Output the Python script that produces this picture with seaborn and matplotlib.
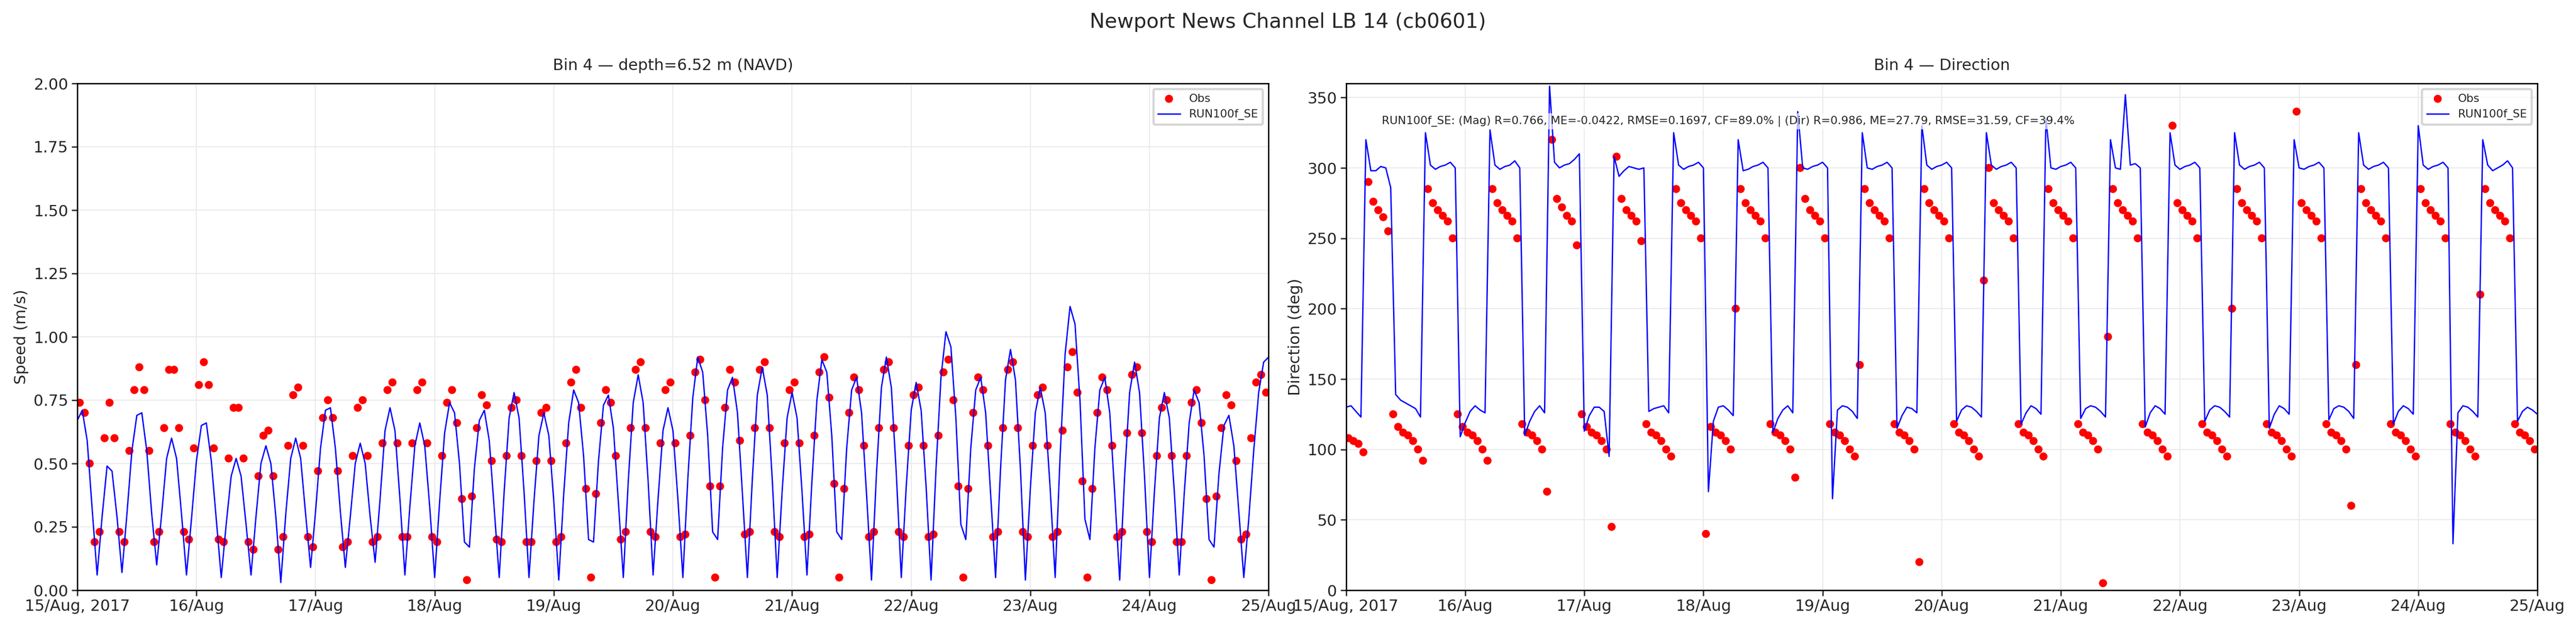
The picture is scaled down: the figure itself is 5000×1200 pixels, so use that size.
import seaborn as sns
import matplotlib.pyplot as plt
import matplotlib.dates as mdates
import pandas as pd
import numpy as np

# 观测与模型数据 (从图中读取, 模型每小时, 观测取半点)
model_speed = [
    0.67, 0.71, 0.59, 0.32, 0.06, 0.29, 0.49, 0.47, 0.29, 0.07,
    0.30, 0.55, 0.69, 0.70, 0.55, 0.30, 0.10,
    0.30, 0.52, 0.60, 0.52, 0.30, 0.06,
    0.28, 0.51, 0.65, 0.66, 0.51, 0.28, 0.05,
    0.26, 0.45, 0.52, 0.45, 0.26, 0.06,
    0.29, 0.50, 0.57, 0.50, 0.29, 0.03,
    0.30, 0.52, 0.60, 0.52, 0.30, 0.09,
    0.31, 0.56, 0.71, 0.72, 0.56, 0.31, 0.09,
    0.29, 0.50, 0.58, 0.50, 0.29, 0.11,
    0.36, 0.63, 0.72, 0.63, 0.36, 0.06,
    0.33, 0.57, 0.66, 0.57, 0.33, 0.05,
    0.35, 0.62, 0.74, 0.70, 0.50, 0.19,
    0.17, 0.48, 0.67, 0.71, 0.59, 0.32, 0.05,
    0.39, 0.68, 0.78, 0.68, 0.39, 0.05,
    0.35, 0.61, 0.70, 0.61, 0.35, 0.04,
    0.38, 0.66, 0.79, 0.74, 0.53, 0.20,
    0.19, 0.51, 0.73, 0.77, 0.64, 0.35, 0.05,
    0.43, 0.74, 0.85, 0.74, 0.43, 0.06,
    0.36, 0.63, 0.72, 0.63, 0.36, 0.05,
    0.44, 0.76, 0.92, 0.86, 0.61, 0.23,
    0.20, 0.56, 0.79, 0.84, 0.70, 0.38, 0.05,
    0.44, 0.77, 0.88, 0.77, 0.44, 0.05,
    0.39, 0.68, 0.78, 0.68, 0.39, 0.06,
    0.43, 0.75, 0.91, 0.86, 0.61, 0.23,
    0.20, 0.56, 0.79, 0.84, 0.70, 0.38, 0.04,
    0.46, 0.80, 0.92, 0.80, 0.46, 0.05,
    0.41, 0.71, 0.82, 0.71, 0.41, 0.04,
    0.48, 0.84, 1.02, 0.96, 0.68, 0.26,
    0.20, 0.56, 0.79, 0.84, 0.70, 0.38, 0.05,
    0.48, 0.83, 0.95, 0.83, 0.48, 0.04,
    0.40, 0.70, 0.80, 0.70, 0.40, 0.05,
    0.53, 0.93, 1.12, 1.05, 0.75, 0.28,
    0.20, 0.56, 0.79, 0.84, 0.70, 0.38, 0.04,
    0.45, 0.78, 0.90, 0.78, 0.45, 0.05,
    0.39, 0.68, 0.78, 0.68, 0.39, 0.06,
    0.38, 0.66, 0.79, 0.74, 0.53, 0.20,
    0.17, 0.46, 0.65, 0.69, 0.57, 0.31, 0.05,
    0.28, 0.55, 0.78, 0.90, 0.92,
]
obs_speed = [
    0.74, 0.70, 0.50, 0.19,
    0.23, 0.60, 0.74, 0.60, 0.23,
    0.19, 0.55, 0.79, 0.88, 0.79, 0.55, 0.19,
    0.23, 0.64, 0.87, 0.87, 0.64, 0.23,
    0.20, 0.56, 0.81, 0.90, 0.81, 0.56, 0.20,
    0.19, 0.52, 0.72, 0.72, 0.52, 0.19,
    0.16, 0.45, 0.61, 0.63, 0.45, 0.16,
    0.21, 0.57, 0.77, 0.80, 0.57, 0.21,
    0.17, 0.47, 0.68, 0.75, 0.68, 0.47, 0.17,
    0.19, 0.53, 0.72, 0.75, 0.53, 0.19,
    0.21, 0.58, 0.79, 0.82, 0.58, 0.21,
    0.21, 0.58, 0.79, 0.82, 0.58, 0.21,
    0.19, 0.53, 0.74, 0.79, 0.66, 0.36,
    0.04, 0.37, 0.64, 0.77, 0.73, 0.51, 0.20,
    0.19, 0.53, 0.72, 0.75, 0.53, 0.19,
    0.19, 0.51, 0.70, 0.72, 0.51, 0.19,
    0.21, 0.58, 0.82, 0.87, 0.72, 0.40,
    0.05, 0.38, 0.66, 0.79, 0.74, 0.53, 0.20,
    0.23, 0.64, 0.87, 0.90, 0.64, 0.23,
    0.21, 0.58, 0.79, 0.82, 0.58, 0.21,
    0.22, 0.61, 0.86, 0.91, 0.75, 0.41,
    0.05, 0.41, 0.72, 0.87, 0.82, 0.59, 0.22,
    0.23, 0.64, 0.87, 0.90, 0.64, 0.23,
    0.21, 0.58, 0.79, 0.82, 0.58, 0.21,
    0.22, 0.61, 0.86, 0.92, 0.76, 0.42,
    0.05, 0.40, 0.70, 0.84, 0.79, 0.57, 0.21,
    0.23, 0.64, 0.87, 0.90, 0.64, 0.23,
    0.21, 0.57, 0.77, 0.80, 0.57, 0.21,
    0.22, 0.61, 0.86, 0.91, 0.75, 0.41,
    0.05, 0.40, 0.70, 0.84, 0.79, 0.57, 0.21,
    0.23, 0.64, 0.87, 0.90, 0.64, 0.23,
    0.21, 0.57, 0.77, 0.80, 0.57, 0.21,
    0.23, 0.63, 0.88, 0.94, 0.78, 0.43,
    0.05, 0.40, 0.70, 0.84, 0.79, 0.57, 0.21,
    0.23, 0.62, 0.85, 0.88, 0.62, 0.23,
    0.19, 0.53, 0.72, 0.75, 0.53, 0.19,
    0.19, 0.53, 0.74, 0.79, 0.66, 0.36,
    0.04, 0.37, 0.64, 0.77, 0.73, 0.51, 0.20,
    0.22, 0.60, 0.82, 0.85, 0.78,
]
model_dir = [
    130, 131, 127, 123,
    320, 298, 298, 301, 300, 286,
    139, 135, 133, 131, 129, 123,
    325, 302, 299, 301, 302, 304, 300,
    109, 119, 127, 131, 128, 126,
    327, 302, 299, 301, 302, 305, 300,
    110, 120, 127, 131, 126,
    358, 304, 300, 302, 303, 306, 310,
    113, 124, 130, 130, 127, 95,
    308, 294, 298, 301, 300, 299, 300,
    127, 129, 130, 131, 126,
    325, 302, 299, 301, 302, 304, 300,
    70, 120, 130, 131, 128, 124,
    320, 298, 299, 301, 302, 304, 300,
    112, 122, 128, 131, 126,
    340, 300, 299, 301, 302, 304, 300,
    65, 128, 131, 130, 127, 122,
    325, 300, 299, 301, 302, 304, 300,
    115, 124, 130, 129, 126,
    330, 302, 299, 301, 302, 304, 300,
    120, 128, 131, 130, 127, 123,
    325, 302, 299, 301, 302, 304, 300,
    118, 126, 131, 129, 125,
    335, 300, 299, 301, 302, 304, 300,
    122, 129, 131, 130, 127, 123,
    320, 300, 299, 352, 302, 303, 300,
    116, 126, 131, 129, 125,
    325, 302, 299, 301, 302, 304, 300,
    120, 128, 131, 130, 127, 123,
    325, 302, 299, 301, 302, 304, 300,
    115, 125, 131, 129, 125,
    320, 300, 299, 301, 302, 304, 300,
    121, 129, 131, 130, 127, 122,
    325, 302, 299, 301, 302, 304, 300,
    118, 127, 131, 129, 125,
    330, 302, 299, 301, 302, 304, 300,
    33, 126, 131, 130, 127, 123,
    320, 302, 298, 300, 302, 305, 300,
    120, 127, 130, 128, 125,
]
obs_dir = [
    108, 106, 104, 98,
    290, 276, 270, 265, 255,
    125, 116, 112, 110, 106, 100, 92,
    285, 275, 270, 266, 262, 250,
    125, 116, 112, 110, 106, 100, 92,
    285, 275, 270, 266, 262, 250,
    118, 112, 110, 106, 100, 70,
    320, 278, 272, 266, 262, 245,
    125, 116, 112, 110, 106, 100, 45,
    308, 278, 270, 266, 262, 248,
    118, 112, 110, 106, 100, 95,
    285, 275, 270, 266, 262, 250,
    40, 116, 112, 110, 106, 100,
    200,
    285, 275, 270, 266, 262, 250,
    118, 112, 110, 106, 100, 80,
    300, 278, 270, 266, 262, 250,
    118, 112, 110, 106, 100, 95,
    160,
    285, 275, 270, 266, 262, 250,
    118, 112, 110, 106, 100, 20,
    285, 275, 270, 266, 262, 250,
    118, 112, 110, 106, 100, 95,
    220,
    300, 275, 270, 266, 262, 250,
    118, 112, 110, 106, 100, 95,
    285, 275, 270, 266, 262, 250,
    118, 112, 110, 106, 100, 5,
    180,
    285, 275, 270, 266, 262, 250,
    118, 112, 110, 106, 100, 95,
    330, 275, 270, 266, 262, 250,
    118, 112, 110, 106, 100, 95,
    200,
    285, 275, 270, 266, 262, 250,
    118, 112, 110, 106, 100, 95,
    340, 275, 270, 266, 262, 250,
    118, 112, 110, 106, 100, 60,
    160,
    285, 275, 270, 266, 262, 250,
    118, 112, 110, 106, 100, 95,
    285, 275, 270, 266, 262, 250,
    118, 112, 110, 106, 100, 95,
    210,
    285, 275, 270, 266, 262, 250,
    118, 112, 110, 106, 100,
]

model_time = pd.date_range("2017-08-15 00:00", periods=len(model_speed), freq="h")
obs_time = pd.date_range("2017-08-15 00:30", periods=len(obs_speed), freq="h")
model_df = pd.DataFrame({"time": model_time, "speed": model_speed, "dir": model_dir[:len(model_speed)]})
obs_df = pd.DataFrame({"time": obs_time, "speed": obs_speed, "dir": obs_dir[:len(obs_speed)]})

sns.set_theme(style="whitegrid", rc={
    "axes.edgecolor": "black", "xtick.bottom": True, "ytick.left": True,
    "grid.color": "#ebebeb", "grid.linewidth": 0.5,
})
plt.rcParams["font.family"] = ["DejaVu Sans"]


def fmt_day(x, pos=None):
    d = mdates.num2date(x)
    return d.strftime("%d/%b, %Y") if pos == 0 else d.strftime("%d/%b")


plt.figure(figsize=(16, 3.84))
plt.subplots_adjust(left=0.03, right=0.985, top=0.865, bottom=0.045, wspace=0.065)

# 左图: 流速
ax1 = plt.subplot(1, 2, 1)
sns.scatterplot(data=obs_df, x="time", y="speed", color="red", s=13, edgecolor="none", label="Obs")
sns.lineplot(data=model_df, x="time", y="speed", color="blue", linewidth=0.6, label="RUN100f_SE")
plt.ylim(0, 2)
plt.xlim(pd.Timestamp("2017-08-15"), pd.Timestamp("2017-08-25"))
plt.ylabel("Speed (m/s)", fontsize=7, labelpad=2)
plt.xlabel("")
plt.title("Bin 4 \u2014 depth=6.52 m (NAVD)", fontsize=7)
ax1.xaxis.set_major_locator(mdates.DayLocator())
ax1.xaxis.set_major_formatter(plt.FuncFormatter(fmt_day))
plt.tick_params(labelsize=7, length=2.5, width=0.6, pad=1.5)
plt.legend(loc="upper right", fontsize=5, frameon=True)

# 右图: 流向
ax2 = plt.subplot(1, 2, 2)
sns.scatterplot(data=obs_df, x="time", y="dir", color="red", s=13, edgecolor="none", label="Obs")
sns.lineplot(data=model_df, x="time", y="dir", color="blue", linewidth=0.6, label="RUN100f_SE")
plt.ylim(0, 360)
plt.xlim(pd.Timestamp("2017-08-15"), pd.Timestamp("2017-08-25"))
plt.ylabel("Direction (deg)", fontsize=7, labelpad=2)
plt.xlabel("")
plt.title("Bin 4 \u2014 Direction", fontsize=7)
ax2.xaxis.set_major_locator(mdates.DayLocator())
ax2.xaxis.set_major_formatter(plt.FuncFormatter(fmt_day))
plt.tick_params(labelsize=7, length=2.5, width=0.6, pad=1.5)
plt.legend(loc="upper right", fontsize=5, frameon=True)
plt.text(0.03, 0.92,
         "RUN100f_SE: (Mag) R=0.766, ME=-0.0422, RMSE=0.1697, CF=89.0% | (Dir) R=0.986, ME=27.79, RMSE=31.59, CF=39.4%",
         transform=ax2.transAxes, fontsize=5,
         bbox=dict(facecolor="white", edgecolor="none", alpha=0.7, pad=1))

for ax in (ax1, ax2):
    for sp in ax.spines.values():
        sp.set_linewidth(0.6)

plt.suptitle("Newport News Channel LB 14 (cb0601)", fontsize=9)

plt.savefig("out.png", dpi=312.5)
